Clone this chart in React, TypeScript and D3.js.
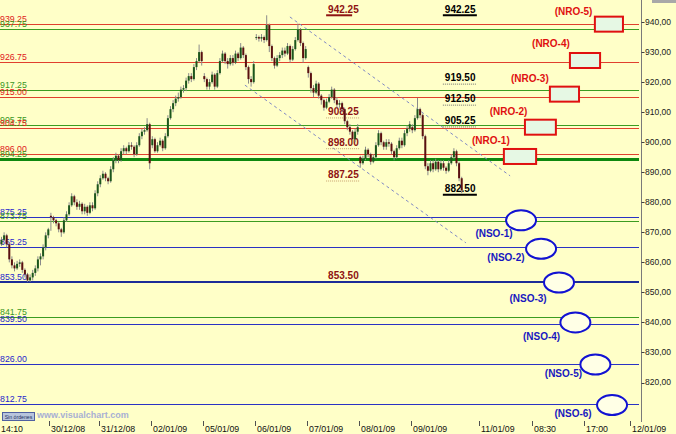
import React from "react";
import * as d3 from "d3";

const W = 676;
const H = 434;
const FONT = "'Liberation Sans', Arial, Helvetica, sans-serif";

// ---- price bars (one per slot), sessions: 29/12 pm, 30/12, 31/12, 02/01, 05/01, 06/01, 07/01, 08/01, 09/01
const sessionStarts = [0, 19, 38, 58, 78, 98, 118, 138, 158];
const sessionOpens = [866, 875.5, 886, 899, 922, 935, 925, 895, 905];

const closes = [
  867.5, 869, 866, 861, 859, 858, 859.5, 860, 857.5, 856, 854, 855, 856.5, 858, 861, 862, 865, 869, 871,
  875, 874, 873, 871, 870, 874, 876, 879, 882, 880, 878.5, 879.5, 877, 878.5, 876.5, 879, 878, 883, 886,
  888, 889.5, 888, 887, 891, 894, 895.5, 894, 897, 898, 897, 899, 898.5, 896, 899, 902, 903.5, 904, 906, 893,
  901, 897, 899, 900.5, 898, 902, 908, 911, 913, 914.5, 915, 917.5, 918, 920.5, 922, 921, 925, 927, 930, 927,
  921, 918.5, 920, 922.5, 918.5, 923, 927, 929.5, 927, 926, 928, 926.5, 929.5, 928, 931.5, 929, 925, 921, 920, 926,
  935, 934.5, 935, 934, 939, 932, 928, 925.5, 928, 929, 930.5, 929.5, 932, 927.5, 931, 934, 937.5, 933, 928, 931,
  923, 918, 916.5, 919.5, 915.5, 914, 911.5, 913.5, 915, 917.5, 914, 912.5, 913, 911, 907, 905, 903.5, 901, 903.5, 905,
  893, 894.5, 897.5, 896, 893.5, 895, 899, 903, 900, 898.5, 900, 899.5, 897, 895, 898, 900.5, 899, 903, 904.5, 906,
  904, 908, 911, 909, 902, 892, 890.5, 893, 891, 893.5, 891, 893, 891.5, 890.5, 893, 895, 897, 893, 888, 884,
];

const highs = [
  868.5, 870, 869.5, 866.5, 862, 860, 860.5, 861, 860.5, 858, 856.5, 856, 857.5, 859, 862, 863, 866, 870, 871.5,
  876.5, 875.5, 874.5, 873.5, 871.5, 875, 877, 880, 883, 882.5, 881, 880.5, 880, 879.5, 879, 880, 880, 884, 887,
  889, 890.5, 890, 888.5, 892, 895, 896.5, 896, 898, 899, 898.5, 900, 900, 899, 900, 903, 904.5, 905, 908, 906.5,
  902, 901.5, 900, 901.5, 901, 903, 909, 912, 914, 915.5, 916.5, 918.5, 919, 921.5, 923, 923, 926, 928, 932.5, 930.5,
  923, 921.5, 921, 923.5, 923, 924, 928, 930.5, 930, 928, 929, 929, 930.5, 930, 933, 932, 929.5, 925.5, 922, 927,
  936, 935.5, 936, 935.5, 942.25, 939.5, 932.5, 928.5, 929, 930, 931.5, 931.5, 933, 932.5, 932, 935, 939.5, 938, 933.5, 932,
  925.5, 923.5, 919, 920.5, 920, 916, 914.5, 914.5, 916, 918.5, 918, 915, 914, 913.5, 911.5, 907.5, 906, 904, 904.5, 906,
  895.5, 895.5, 898.5, 898, 896.5, 896, 900, 904, 903.5, 900.5, 901, 901, 900, 897.5, 899, 901.5, 901.5, 904, 905.5, 907,
  906, 909, 914.75, 911.5, 909.5, 902.5, 893, 894, 894, 894.5, 894, 894, 894, 892, 894, 896, 898, 897.5, 893.5, 888.5,
];

const lows = [
  865.5, 867, 865, 860, 858, 857, 857.5, 858.5, 856.5, 855, 853.5, 853.5, 854, 855.5, 857, 859, 861, 864, 868,
  870.5, 873, 872, 870, 868.5, 869.5, 873.5, 875.5, 878.5, 879, 877.5, 877.5, 876, 876, 875.5, 876, 877, 877.5, 882,
  885, 887.5, 887, 886, 886.5, 890, 893, 893, 893.5, 896, 896, 896.5, 897.5, 895, 895.5, 898.5, 901, 902.5, 903.5, 891,
  898, 896.5, 896.5, 898.5, 897, 897.5, 901.5, 907.5, 910, 912, 913.5, 914.5, 916.5, 917, 919.5, 920, 920.5, 924, 926.5, 925.5,
  920, 917.5, 917.5, 919.5, 917.5, 918, 922.5, 926.5, 926, 924.5, 925.5, 925.5, 926, 927, 927.5, 928, 924, 919.5, 918.5, 919.5,
  934, 933.5, 933.5, 933, 933.5, 930, 927, 924.5, 925, 927, 928, 928.5, 929, 926.5, 927, 930.5, 933.5, 932, 926.5, 927.5,
  921.5, 916.5, 915, 916, 914.5, 912.5, 910.5, 911, 913, 914.5, 913, 911.5, 911.5, 910, 906, 904, 902.5, 899.5, 900, 902.5,
  891.5, 892.5, 894, 895, 892.5, 893, 894.5, 898.5, 899, 897.5, 897.5, 898.5, 896, 894, 894.5, 897.5, 898, 898.5, 902, 903.5,
  903, 903.5, 907.5, 908, 901, 891, 889, 890, 890, 890.5, 890, 890.5, 890.5, 889.5, 890, 892.5, 894.5, 892, 887, 883,
];

// ---- horizontal levels
const levelValues = [939.25, 937.75, 926.75, 917.25, 915.0, 905.75, 904.75, 896.0, 894.25, 875.25, 873.75, 865.25, 853.5, 841.75, 839.5, 826.0, 812.75];
const levelKinds = ["r", "g", "r", "g", "r", "g", "r", "r", "G", "b", "g", "b", "n", "g", "b", "b", "b"];

// ---- annotated prices
const annValues = [942.25, 908.25, 898.0, 887.25, 853.5, 942.25, 919.5, 912.5, 905.25, 882.5];
const annSlots = [126.2, 126.2, 126.2, 126.2, 126.2, 171.1, 171.1, 171.1, 171.1, 171.1];
const annKinds = ["redSolid", "redDot", "redDot", "redDot", "redNone", "blackSolid", "blackDot", "blackDot", "blackDot", "blackSolid"];

// ---- trend channel (slot, price)
const channelUpper: [number, number][] = [[111.5, 941.7], [196.2, 888.8]];
const channelLower: [number, number][] = [[94.2, 919.0], [179.2, 866.5]];

// ---- NRO boxes
const nroNames = ["(NRO-1)", "(NRO-2)", "(NRO-3)", "(NRO-4)", "(NRO-5)"];
const nroPrices = [895.25, 905.0, 916.0, 927.2, 939.3];
const nroSlot0 = [193.8, 201.9, 211.5, 219.2, 228.8];
const nroSlot1 = [206.2, 213.8, 222.7, 230.8, 239.6];
const nroLabelSlots = [188.8, 195.6, 203.8, 211.9, 220.6];
const nroLabelPrices = [900.7, 910.1, 921.4, 933.0, 943.7];

// ---- NSO ellipses
const nsoNames = ["(NSO-1)", "(NSO-2)", "(NSO-3)", "(NSO-4)", "(NSO-5)", "(NSO-6)"];
const nsoPrices = [874.0, 864.5, 853.3, 840.0, 826.0, 812.5];
const nsoSlots = [200.4, 208.1, 215.0, 221.3, 229.0, 235.4];
const nsoLabelSlots = [190.0, 194.6, 203.1, 208.3, 216.7, 220.4];
const nsoLabelPrices = [869.8, 861.5, 847.9, 835.5, 822.9, 809.6];

// ---- axes
const rightTicks = [940, 930, 920, 910, 900, 890, 880, 870, 860, 850, 840, 830, 820];
const xTickSlots = [0, 19, 38, 58, 78, 98, 118, 138, 158, 184.2, 204.6, 224.6, 242.3];
const xTickLabels = ["14:10", "30/12/08", "31/12/08", "02/01/09", "05/01/09", "06/01/09", "07/01/09", "08/01/09", "09/01/09", "11/01/09", "08:30", "17:00", "12/01/09"];

const levelStyle: Record<string, { stroke: string; w: number; text: string }> = {
  r: { stroke: "#E0402E", w: 1, text: "#E02020" },
  g: { stroke: "#3C9C22", w: 1, text: "#3A961E" },
  G: { stroke: "#0E880E", w: 3, text: "#3A961E" },
  b: { stroke: "#2A32C4", w: 1, text: "#2626CC" },
  n: { stroke: "#1C2C98", w: 2, text: "#2626CC" },
};

export default function App() {
  const x = d3.scaleLinear().domain([0, 246]).range([0, 639.6]);
  const y = d3.scaleLinear().domain([812.75, 939.25]).range([404.3, 24.3]);
  const n = Math.min(closes.length, highs.length, lows.length);
  const bars = d3.range(n).map((i) => {
    const si = sessionStarts.indexOf(i);
    const open = si >= 0 ? sessionOpens[si] : closes[i - 1];
    return { i, open, close: closes[i], high: highs[i], low: lows[i] };
  });
  const line = d3
    .line<[number, number]>()
    .x((d) => x(d[0]))
    .y((d) => y(d[1]));
  const plotRight = 639;
  const axisX = 641.5;

  return (
    <div style={{ position: "fixed", left: 0, top: 0 }}>
      <svg width={W} height={H} style={{ display: "block" }} fontFamily={FONT}>
        <rect width={W} height={H} fill="#FFFFC8" />
        <rect x={652} y={0} width={24} height={3} fill="#A8A8A8" />

        {/* level lines */}
        {levelValues.map((v, k) => {
          const s = levelStyle[levelKinds[k]];
          const yy = Math.round(y(v)) + (s.w % 2 ? 0.5 : 0);
          return <line key={"l" + k} x1={0} x2={plotRight} y1={yy} y2={yy} stroke={s.stroke} strokeWidth={s.w} />;
        })}

        {/* level labels */}
        {levelValues.map((v, k) => {
          const s = levelStyle[levelKinds[k]];
          return (
            <text key={"lt" + k} x={0} y={y(v) - 2} fontSize={8.8} fill={s.text}>
              {v.toFixed(2)}
            </text>
          );
        })}

        {/* channel */}
        <path d={line(channelUpper) || ""} stroke="#8088C4" strokeWidth={1} strokeDasharray="3,3" fill="none" />
        <path d={line(channelLower) || ""} stroke="#8088C4" strokeWidth={1} strokeDasharray="3,3" fill="none" />

        {/* annotations text + underline */}
        {annValues.map((v, k) => {
          const kind = annKinds[k];
          const red = kind.startsWith("red");
          const tx = x(annSlots[k]);
          const ly = y(v);
          const col = red ? "#8E1212" : "#000000";
          let ul: React.ReactNode = null;
          if (kind.endsWith("Solid")) {
            ul = <line x1={tx - 2} x2={tx + (red ? 24 : 32)} y1={ly} y2={ly} stroke={col} strokeWidth={2} />;
          } else if (kind.endsWith("Dot")) {
            ul = <line x1={tx - 2} x2={tx + 32} y1={ly + 0.5} y2={ly + 0.5} stroke={red ? "#C8A070" : "#707070"} strokeWidth={1} strokeDasharray="1,1" />;
          }
          return (
            <g key={"a" + k}>
              {ul}
              <text x={tx} y={ly - 2.5} fontSize={10} fontWeight="bold" fill={col}>
                {v.toFixed(2)}
              </text>
            </g>
          );
        })}

        {/* candles */}
        <g>
          {bars.map((b) => {
            const cx = x(b.i) + 1.5;
            const up = b.close >= b.open;
            const yt = y(Math.max(b.open, b.close));
            const yb = y(Math.min(b.open, b.close));
            return (
              <g key={"c" + b.i}>
                <line x1={cx} x2={cx} y1={y(b.high)} y2={y(b.low)} stroke="#8A8A8A" strokeWidth={1} />
                <rect x={cx - 1} y={yt} width={2} height={Math.max(1, yb - yt)} fill={up ? "#1C561C" : "#5A1010"} />
              </g>
            );
          })}
        </g>

        {/* NRO boxes */}
        {nroNames.map((name, k) => {
          const x0 = x(nroSlot0[k]);
          const x1 = x(nroSlot1[k]);
          const cy = y(nroPrices[k]);
          return (
            <g key={"nro" + k}>
              <rect x={x0} y={cy - 7.5} width={x1 - x0} height={15} fill="#E6F8E4" stroke="#E01010" strokeWidth={2} />
              <text x={x(nroLabelSlots[k])} y={y(nroLabelPrices[k]) + 3.6} textAnchor="middle" fontSize={10} fontWeight="bold" fill="#E01010">
                {name}
              </text>
            </g>
          );
        })}

        {/* NSO ellipses */}
        {nsoNames.map((name, k) => (
          <g key={"nso" + k}>
            <ellipse cx={x(nsoSlots[k])} cy={y(nsoPrices[k])} rx={15} ry={10} fill="#FFFFE6" stroke="#1212D2" strokeWidth={2} />
            <text x={x(nsoLabelSlots[k])} y={y(nsoLabelPrices[k]) + 3.6} textAnchor="middle" fontSize={10} fontWeight="bold" fill="#1818C0">
              {name}
            </text>
          </g>
        ))}

        {/* right axis */}
        <line x1={axisX} x2={axisX} y1={0} y2={422} stroke="#7A7A7A" strokeWidth={1} />
        {rightTicks.map((t) => (
          <g key={"rt" + t}>
            <line x1={axisX} x2={axisX + 3} y1={Math.round(y(t)) + 0.5} y2={Math.round(y(t)) + 0.5} stroke="#404040" />
            <text x={axisX + 3.5} y={y(t)} dy="0.35em" fontSize={8.5} fill="#202020">
              {t.toFixed(2).replace(".", ",")}
            </text>
          </g>
        ))}

        {/* bottom axis */}
        {xTickSlots.map((s, k) => {
          const tx = Math.round(x(s)) + 0.5;
          return (
            <g key={"xt" + k}>
              {k > 0 && <line x1={tx} x2={tx} y1={421} y2={426} stroke="#505050" />}
              <text x={k === 0 ? 1 : tx + 1.5} y={431.5} fontSize={8.8} fill="#101010">
                {xTickLabels[k]}
              </text>
            </g>
          );
        })}

        {/* footer */}
        <rect x={2.5} y={412.5} width={32} height={8} fill="#B8C4DC" stroke="#5060A0" />
        <text x={18.5} y={418.8} textAnchor="middle" fontSize={5.2} fill="#203060">
          Sin órdenes
        </text>
        <text x={37} y={417.8} fontSize={9} fontWeight="bold" fill="#A8B0D4">
          www.visualchart.com
        </text>
      </svg>
    </div>
  );
}
